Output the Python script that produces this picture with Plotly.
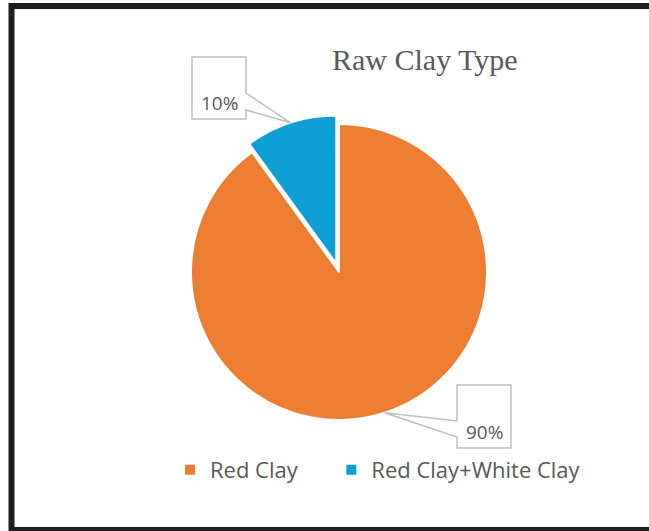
import math
import plotly.graph_objects as go

# ---- data ----
labels = ["Red Clay", "Red Clay+White Clay"]
values = [90, 10]
colors = ["#ED7D31", "#0E9FD6"]
pulls = [0, 0.06]
title_text = "Raw Clay Type"

W, H = 649, 531

def px(x):
    return x / W

def py(y):
    return 1 - y / H

# pie geometry (pixels)
cx, cy, r = 339, 272, 148
maxpull = max(pulls)
box = 2 * r * (1 + maxpull)
dom_x = [px(cx - box / 2), px(cx + box / 2)]
dom_y = [py(cy + box / 2), py(cy - box / 2)]

# legend entries padded with non-breaking spaces to reproduce the entry spacing
pad = ["\u00a0" * 5, ""]
legend_labels = [l + p for l, p in zip(labels, pad)]

fig = go.Figure()
fig.add_trace(go.Pie(
    labels=legend_labels, values=values, sort=False, direction="clockwise", rotation=0,
    marker=dict(colors=colors, line=dict(color="white", width=2)),
    pull=pulls, textinfo="none",
    customdata=labels, hovertemplate="%{customdata}: %{percent}<extra></extra>",
    domain=dict(x=dom_x, y=dom_y),
))

# anchor points of the callouts on each slice, computed from the data
total = sum(values)
cum = 0
tips = []
for v, p in zip(values, pulls):
    mid = (cum + v / 2) / total * 2 * math.pi
    cum += v
    ox = cx + r * p * math.sin(mid)
    oy = cy - r * p * math.cos(mid)
    tips.append((ox + r * math.sin(mid), oy - r * math.cos(mid)))

shapes = []
# callout for 10%
tx, ty = tips[1]
pts10 = [(192, 57), (246, 57), (246, 93), (tx, ty), (246, 110), (246, 119), (192, 119)]
# callout for 90%
tx, ty = tips[0]
pts90 = [(457, 385), (511, 385), (511, 448), (457, 448), (457, 437), (tx, ty), (457, 421)]
for pts in (pts10, pts90):
    path = "M " + " L ".join(f"{px(x):.5f},{py(y):.5f}" for x, y in pts) + " Z"
    shapes.append(dict(type="path", xref="paper", yref="paper", path=path,
                       fillcolor="white", line=dict(color="#BFBFBF", width=1.5), layer="above"))

# outer frame (left, top and bottom sides; the right side lies outside the picture)
frame = [(649, 6), (11.5, 6), (11.5, 530), (649, 530)]
shapes.append(dict(type="path", xref="paper", yref="paper",
                   path="M " + " L ".join(f"{px(x):.5f},{py(y):.5f}" for x, y in frame),
                   line=dict(color="#1E1E1E", width=6), layer="above"))

pct = [f"{round(v / total * 100)}%" for v in values]
annotations = [
    dict(text=title_text, x=px(425), y=py(60), xref="paper", yref="paper",
         showarrow=False, xanchor="center", yanchor="middle",
         font=dict(family="Liberation Serif", size=30, color="#595959")),
    dict(text=pct[1], x=px(219), y=py(103), xref="paper", yref="paper",
         showarrow=False, xanchor="center", yanchor="middle",
         font=dict(family="Open Sans", size=19, color="#595959")),
    dict(text=pct[0], x=px(484), y=py(432), xref="paper", yref="paper",
         showarrow=False, xanchor="center", yanchor="middle",
         font=dict(family="Open Sans", size=19, color="#595959")),
]

fig.update_layout(
    width=W, height=H, margin=dict(l=0, r=0, t=0, b=0),
    paper_bgcolor="white", plot_bgcolor="white",
    shapes=shapes, annotations=annotations,
    showlegend=True,
    legend=dict(orientation="h", x=px(170), xanchor="left", y=py(470), yanchor="middle",
                font=dict(family="Open Sans", size=22, color="#595959"),
                bgcolor="rgba(0,0,0,0)"),
)

fig.write_html("out.html")
